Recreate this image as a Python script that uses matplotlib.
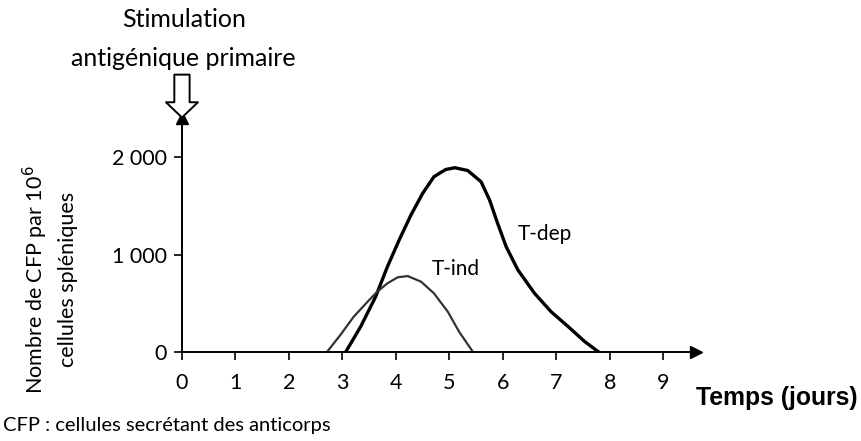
import matplotlib.pyplot as plt

# values
tdep_x = [3.06, 3.34, 3.62, 3.84, 4.06, 4.28, 4.50, 4.71, 4.93, 5.10, 5.34,
          5.59, 5.75, 5.90, 6.06, 6.28, 6.59, 6.90, 7.22, 7.53, 7.79]
tdep_y = [0, 260, 567, 875, 1149, 1405, 1628, 1798, 1872, 1890, 1862,
          1747, 1559, 1320, 1080, 841, 602, 413, 260, 106, 0]
tind_x = [2.71, 2.96, 3.21, 3.47, 3.65, 3.84, 4.03, 4.22, 4.47, 4.71, 4.97,
          5.18, 5.44]
tind_y = [0, 174, 362, 516, 619, 704, 766, 779, 721, 602, 413, 208, 0]
xticks = [0, 1, 2, 3, 4, 5, 6, 7, 8, 9]
yticks = [0, 1000, 2000]
ylabels = ['0', '1 000', '2 000']

plt.rcParams['font.family'] = ['Lato', 'DejaVu Sans']

fig = plt.figure(figsize=(8.62, 4.41), dpi=100)
ax = fig.add_axes([0.2111, 0.2018, 0.5958, 0.5306])
ax.set_xlim(0, 9.6)
ax.set_ylim(0, 2400)

ax.plot(tdep_x, tdep_y, color='black', lw=2.4, solid_capstyle='round',
        solid_joinstyle='round')
ax.plot(tind_x, tind_y, color='#333333', lw=1.6, solid_capstyle='round',
        solid_joinstyle='round')
ax.text(6.78, 1214, 'T-dep', fontsize=15, ha='center', va='center')
ax.text(5.12, 855, 'T-ind', fontsize=15, ha='center', va='center')

for s in ['top', 'right']:
    ax.spines[s].set_visible(False)
for s in ['left', 'bottom']:
    ax.spines[s].set_linewidth(1.4)
ax.set_xticks(xticks)
ax.set_yticks(yticks)
ax.set_yticklabels(ylabels)
ax.tick_params(axis='both', direction='out', length=6, width=1.2,
               labelsize=15.5)
ax.tick_params(axis='x', pad=9)
ax.tick_params(axis='y', pad=5)

# arrow heads on the axes
ax.plot(1, 0, '>k', markersize=8, transform=ax.transAxes, clip_on=False)
ax.plot(0, 1, '^k', markersize=8, transform=ax.transAxes, clip_on=False)

ax.set_ylabel('Nombre de CFP par 10$^6$\ncellules spléniques', fontsize=15.5,
              linespacing=1.5)
ax.yaxis.set_label_coords(-0.203, 0.31)
fig.text(0.808, 0.097, 'Temps (jours)', fontsize=17.8,
         family='Liberation Sans', weight='bold', va='center')

# hollow arrow for the stimulation
ax.annotate('', xy=(0, 2405), xytext=(0, 2845), xycoords='data',
            arrowprops=dict(arrowstyle='simple,head_length=0.55,head_width=1.15,tail_width=0.55',
                            mutation_scale=20, fc='white', ec='black', lw=1.4,
                            shrinkA=0, shrinkB=0),
            annotation_clip=False)
fig.text(0.213, 0.955, 'Stimulation', fontsize=18, ha='center', va='center')
fig.text(0.213, 0.868, 'antigénique primaire', fontsize=18, ha='center', va='center')
fig.text(0.004, 0.035, 'CFP : cellules secrétant des anticorps', fontsize=14.5,
         va='center')

fig.savefig('out.png', dpi=100)
